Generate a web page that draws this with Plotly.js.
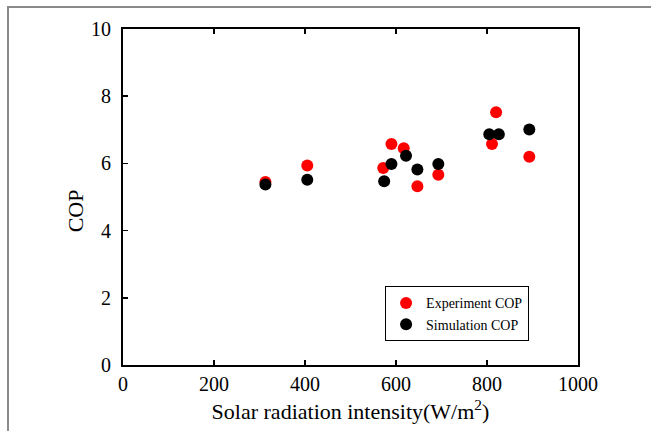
<!DOCTYPE html>
<html>
<head>
<meta charset="utf-8">
<script src="https://cdn.plot.ly/plotly-3.0.1.min.js"></script>
<style>
body{margin:0;padding:0;background:#fff;}
#wrap{position:relative;width:651px;height:431px;}
#chart{width:651px;height:431px;}
#frame{position:absolute;left:7px;top:6px;width:644px;height:425px;border-top:2px solid #8a8a8a;border-left:2px solid #8a8a8a;pointer-events:none;box-sizing:border-box;}
</style>
</head>
<body>
<div id="wrap"><div id="chart"></div><div id="frame"></div></div>
<script>
const expX = [313, 405, 572, 590, 617, 647, 693, 811, 820, 893];
const expY = [5.45, 5.94, 5.86, 6.58, 6.45, 5.32, 5.66, 6.58, 7.52, 6.20];
const simX = [313, 405, 574, 590, 622, 647, 693, 805, 826, 893];
const simY = [5.37, 5.51, 5.47, 5.98, 6.23, 5.82, 5.98, 6.87, 6.87, 7.01];
const xTicks = [0, 200, 400, 600, 800, 1000];
const yTicks = [0, 2, 4, 6, 8, 10];

const FAM = 'Liberation Serif, Times New Roman, serif';
const traces = [
  {x: expX, y: expY, mode: 'markers', type: 'scatter', name: 'Experiment COP',
   marker: {color: '#ff0000', size: 12}},
  {x: simX, y: simY, mode: 'markers', type: 'scatter', name: 'Simulation COP',
   marker: {color: '#000000', size: 12}}
];
const layout = {
  width: 651, height: 431,
  margin: {l: 123, r: 73, t: 29, b: 66},
  paper_bgcolor: '#fff', plot_bgcolor: '#fff',
  font: {family: FAM, color: '#000'},
  showlegend: true,
  legend: {x: 0.576, y: 0.234, xanchor: 'left', yanchor: 'top',
           bordercolor: '#000', borderwidth: 1, bgcolor: '#fff',
           font: {family: FAM, size: 14, color: '#000'},
           tracegroupgap: 0, itemsizing: 'constant'},
  xaxis: {range: [0, 1000], tickvals: xTicks, ticktext: xTicks.map(String),
          showgrid: false, zeroline: false, showline: true, linecolor: '#000', linewidth: 2,
          mirror: 'ticks', ticks: 'inside', ticklen: 5, tickwidth: 1.5, tickcolor: '#000',
          tickfont: {family: FAM, size: 20, color: '#000'},
          title: {text: 'Solar radiation intensity(W/m<sup>2</sup>)', standoff: 10,
                  font: {family: FAM, size: 22, color: '#000'}}},
  yaxis: {range: [0, 10], tickvals: yTicks, ticktext: yTicks.map(String),
          showgrid: false, zeroline: false, showline: true, linecolor: '#000', linewidth: 2,
          mirror: true, ticks: 'inside', ticklen: 5, tickwidth: 1.5, tickcolor: '#000',
          ticklabelstandoff: 6,
          tickfont: {family: FAM, size: 20, color: '#000'}},
  annotations: [{text: 'COP', xref: 'paper', yref: 'paper', x: -0.105, y: 0.458,
                 xanchor: 'center', yanchor: 'middle', textangle: -90, showarrow: false,
                 font: {family: FAM, size: 22, color: '#000'}}]
};
Plotly.newPlot('chart', traces, layout, {displayModeBar: false, staticPlot: true});
</script>
</body>
</html>
